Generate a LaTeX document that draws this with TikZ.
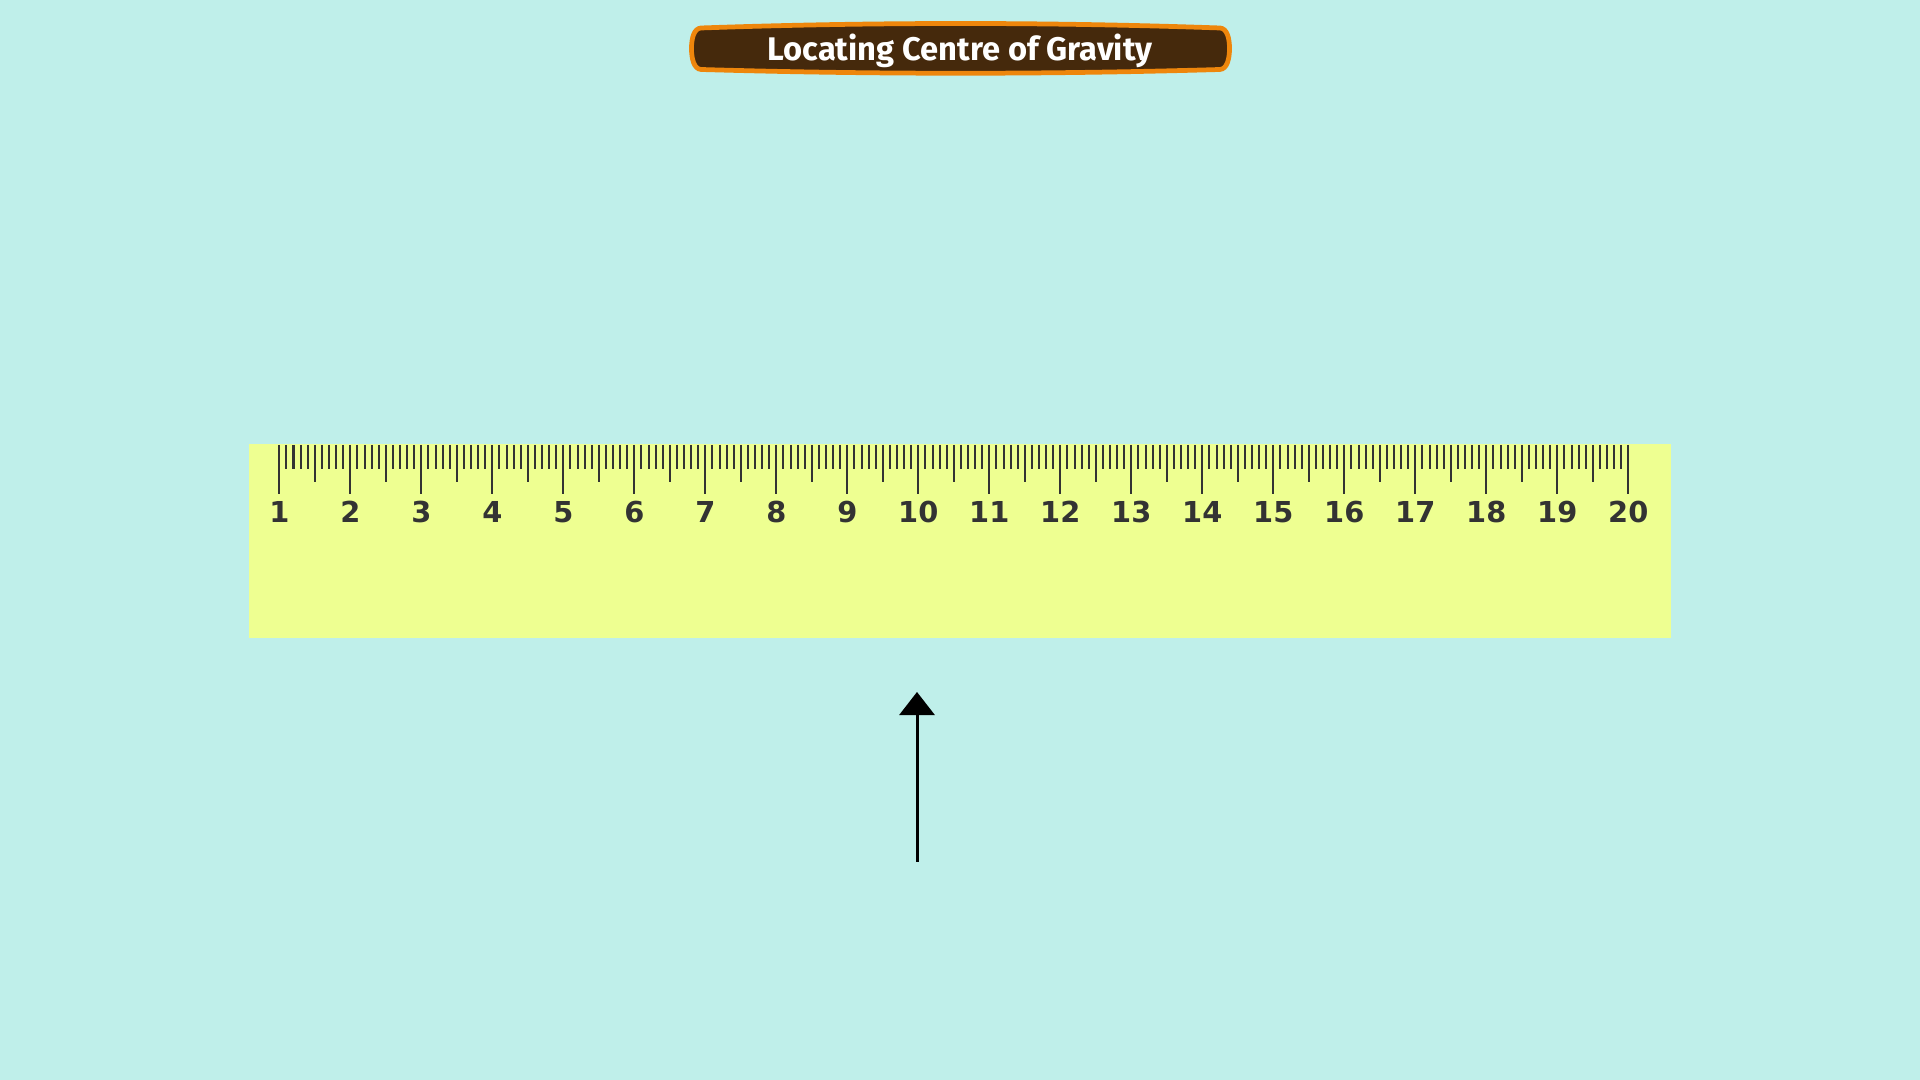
\documentclass[tikz,border=0pt]{standalone}
\usepackage{fontspec}
\setmainfont{Fira Sans}
\newfontfamily\digitfont{DejaVu Sans}
\usetikzlibrary{arrows.meta}

\definecolor{bgTeal}{RGB}{191,239,234}
\definecolor{rulerYellow}{RGB}{238,255,145}
\definecolor{tickGray}{RGB}{51,51,51}
\definecolor{titleBrown}{RGB}{69,41,12}
\definecolor{titleOrange}{RGB}{238,134,12}

\tikzset{
  titleframe/.style={fill=titleBrown, draw=titleOrange, line width=1.35pt},
  titletext/.style={text=white, font=\bfseries\fontsize{9.3}{11}\selectfont,
    text height=0.23cm, text depth=0pt, inner sep=0pt},
  rulertick/.style={draw=tickGray, line width=0.57pt},
  ticklabel/.style={font=\digitfont\bfseries\fontsize{8.2}{9}\selectfont,
    text=tickGray, inner sep=0pt},
  forcearrow/.style={line width=0.85pt, -{Triangle[width=0.35cm, length=0.23cm]}}
}

\begin{document}
\begin{tikzpicture}[x=0.01cm, y=-0.01cm]
    % Background
    \fill[bgTeal] (0,0) rectangle (1920,1080);
    \useasboundingbox (0,0) rectangle (1920,1080);
    % Title banner
    \draw[titleframe] (701,28) .. controls (873,22) and (1048,22) .. (1220,28)
      .. controls (1227,28.5) and (1229.5,38) .. (1229.5,48.5)
      .. controls (1229.5,59) and (1227,69) .. (1220,69.5)
      .. controls (1048,74.5) and (873,74.5) .. (701,69.5)
      .. controls (694,69) and (691.5,59) .. (691.5,48.5)
      .. controls (691.5,38) and (694,28.5) .. (701,28) -- cycle;
    \node[titletext] (title) at (960,49.2) {Locating Centre of Gravity};
    % Ruler body
    \fill[rulerYellow] (249,444) rectangle (1671,638);
    % Ruler ticks
    \foreach \i in {0,...,190} {
      \pgfmathsetmacro\tx{279.3+7.1*\i}
      \pgfmathsetmacro\tlen{mod(\i,10)==0 ? 49 : (mod(\i,5)==0 ? 37 : 24)}
      \draw[rulertick] (\tx,445) -- ++(0,\tlen);
    }
    % Ruler numbers
    \foreach \n in {1,...,20} {
      \node[ticklabel] (num\n) at ({279.3+71*(\n-1)},512) {\n};
    }
    % Upward arrow
    \coordinate (arrowfoot) at (917,862);
    \coordinate (arrowtip) at (917,692);
    \draw[forcearrow] (arrowfoot) -- (arrowtip);
\end{tikzpicture}
\end{document}
